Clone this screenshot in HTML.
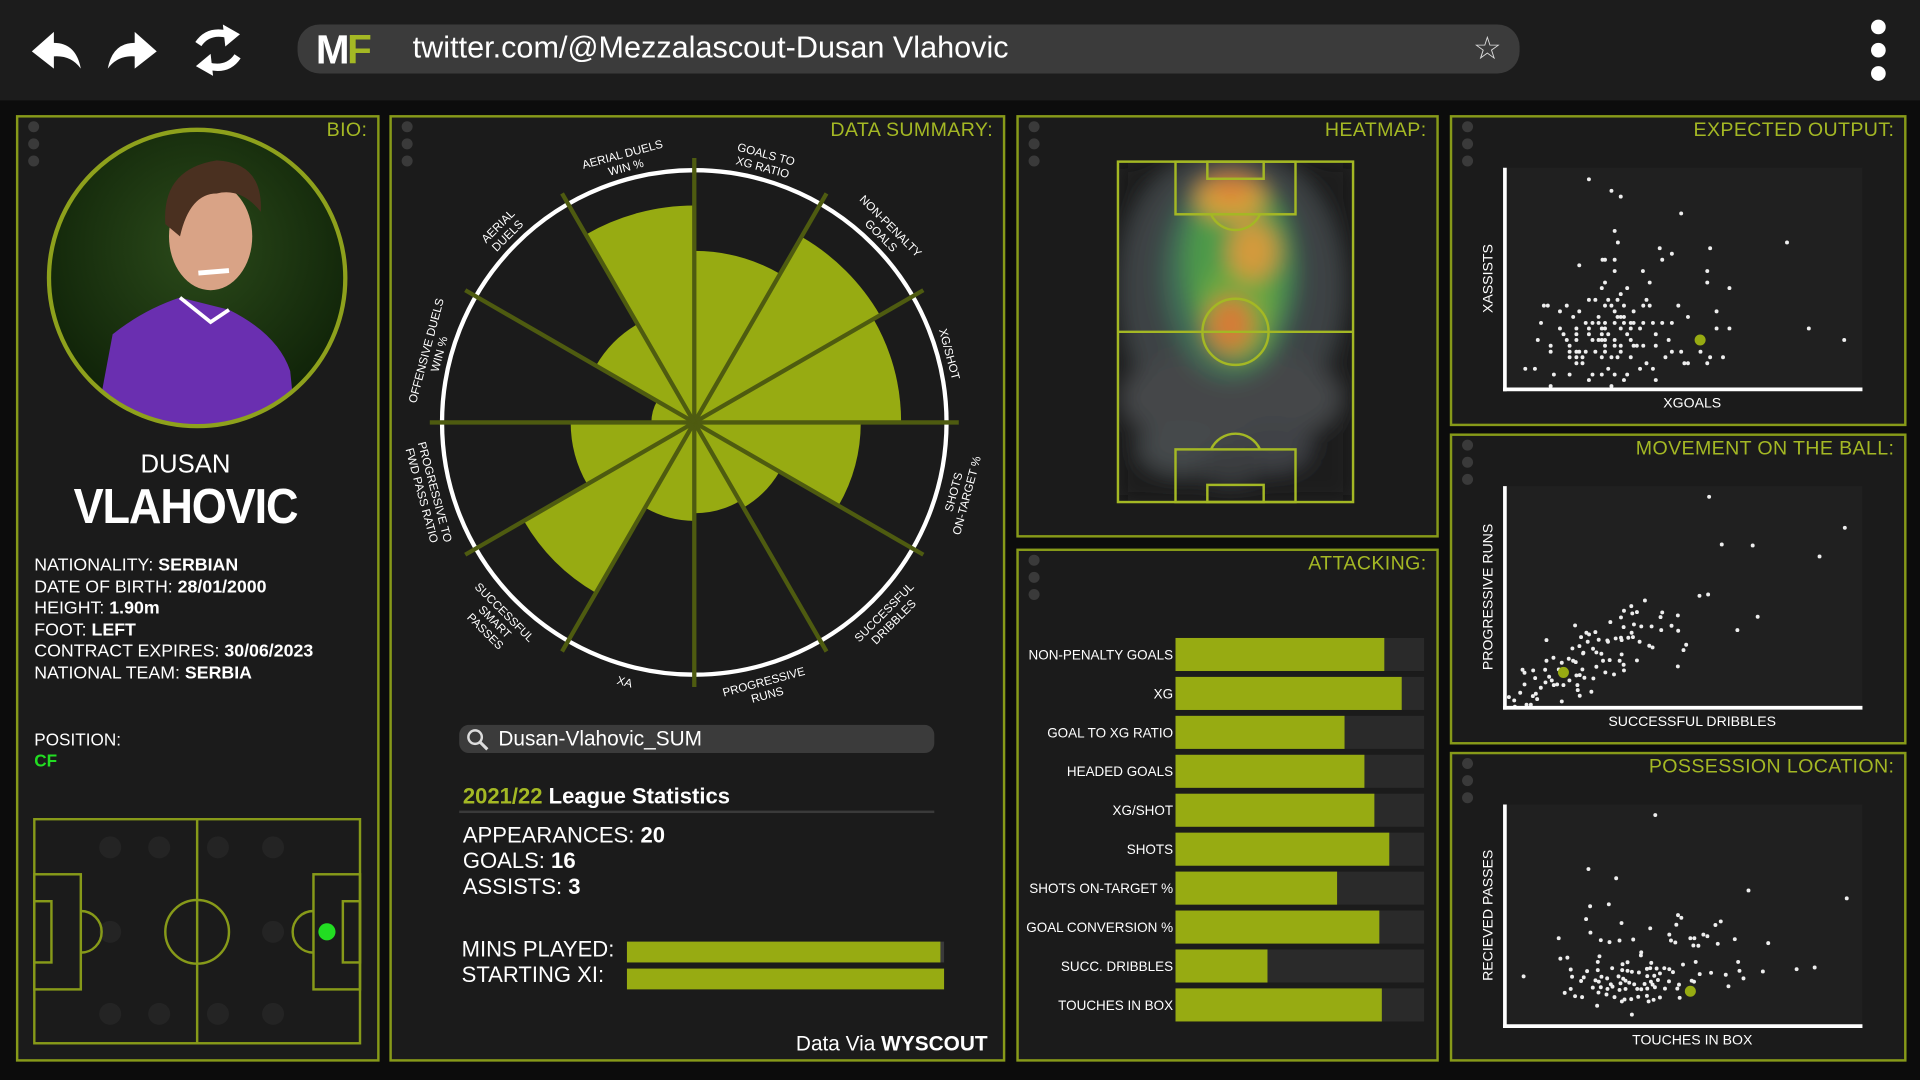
<!DOCTYPE html>
<html><head><meta charset="utf-8">
<style>
html,body{margin:0;padding:0;width:1920px;height:1080px;overflow:hidden;background:#0c0c0c;font-family:"Liberation Sans",sans-serif;}
#stage{position:absolute;left:0;top:0;width:1568px;height:882px;transform:scale(1.22449);transform-origin:0 0;background:#0c0c0c;}
.abs{position:absolute;}
.panel{position:absolute;background:#1b1b1b;border:2px solid #879a19;box-sizing:border-box;}
.ptitle{position:absolute;right:8px;top:2px;color:#a4b824;font-size:16px;letter-spacing:0.3px;}
.dots{position:absolute;left:8px;top:3px;width:9px;}
.dots i{display:block;width:9px;height:9px;border-radius:50%;background:#3a3a3a;margin-bottom:5px;}
.bio-line{font-size:14.5px;color:#fff;line-height:17.5px;}
.bio-line b{font-weight:bold;}
</style></head>
<body>
<div id="stage">

<div class="abs" style="left:0;top:0;width:1568px;height:82px;background:#1c1c1c;"></div>
<svg class="abs" style="left:0;top:0" width="240" height="82">
  <g><path d="M26 42 L44 26 L44 35 Q62 35 66 56 Q58 45 44 46 L44 56 Z" fill="#fff"/></g>
  <g><path d="M128 42 L110 26 L110 35 Q92 35 88 56 Q96 45 110 46 L110 56 Z" fill="#fff"/></g>
  <g fill="none" stroke="#fff" stroke-width="6">
    <path d="M162 36 Q170 24 186 28"/><path d="M194 46 Q186 58 170 54"/>
    <path d="M182 20 L196 28 L184 38 Z" fill="#fff" stroke="none"/><path d="M174 62 L160 54 L172 44 Z" fill="#fff" stroke="none"/>
  </g>
</svg>
<div class="abs" style="left:243px;top:20px;width:998px;height:40px;background:#3b3b3b;border-radius:18px;"></div>
<div class="abs" style="left:258px;top:22px;font-size:33px;font-weight:bold;color:#fff;letter-spacing:-2px;">M<span style="color:#a4b824">F</span></div>
<div class="abs" style="left:337px;top:25px;font-size:25px;color:#fff;">twitter.com/@Mezzalascout-Dusan Vlahovic</div>
<div class="abs" style="left:1203px;top:24px;font-size:26px;color:#ddd;">☆</div>
<div class="abs" style="left:1528px;top:16px;width:12px;">
  <div style="width:12px;height:12px;border-radius:50%;background:#fff;margin-bottom:7px"></div>
  <div style="width:12px;height:12px;border-radius:50%;background:#fff;margin-bottom:7px"></div>
  <div style="width:12px;height:12px;border-radius:50%;background:#fff"></div>
</div>

<div class="panel" style="left:13px;top:94px;width:297px;height:773px;">
  <div class="dots"><i></i><i></i><i></i></div>
  <div class="ptitle">BIO:</div>
</div>
<svg class="abs" style="left:37px;top:103px" width="250" height="250">
  <defs>
    <radialGradient id="bgph" cx="0.5" cy="0.4" r="0.6"><stop offset="0" stop-color="#2b4a1a"/><stop offset="1" stop-color="#0f2208"/></radialGradient>
    <clipPath id="cph"><circle cx="124" cy="124" r="121"/></clipPath>
  </defs>
  <circle cx="124" cy="124" r="121" fill="url(#bgph)"/>
  <g clip-path="url(#cph)">
    <path d="M40 250 L55 170 Q80 150 110 140 L150 150 Q190 170 200 200 L205 250 Z" fill="#6a2fb0"/>
    <path d="M110 140 L135 160 L150 150" fill="none" stroke="#fff" stroke-width="3"/>
    <ellipse cx="135" cy="90" rx="34" ry="44" fill="#d9a386"/>
    <path d="M98 80 Q95 35 140 28 Q178 30 176 70 Q160 50 140 55 Q118 55 110 90 Z" fill="#4a3020"/>
    <path d="M125 120 L150 118" stroke="#fff" stroke-width="4"/>
  </g>
  <circle cx="124" cy="124" r="121" fill="none" stroke="#8ea11c" stroke-width="3.5"/>
</svg>
<div class="abs" style="left:3px;width:297px;top:368px;text-align:center;color:#fff;font-size:21px;">DUSAN</div>
<div class="abs" style="left:3px;width:297px;top:392px;text-align:center;color:#fff;font-size:40px;font-weight:bold;letter-spacing:-1px;transform:scaleX(0.92);">VLAHOVIC</div>
<div class="abs" style="left:28px;top:454px;">
  <div class="bio-line">NATIONALITY: <b>SERBIAN</b></div>
  <div class="bio-line">DATE OF BIRTH: <b>28/01/2000</b></div>
  <div class="bio-line">HEIGHT: <b>1.90m</b></div>
  <div class="bio-line">FOOT: <b>LEFT</b></div>
  <div class="bio-line">CONTRACT EXPIRES: <b>30/06/2023</b></div>
  <div class="bio-line">NATIONAL TEAM: <b>SERBIA</b></div>
</div>
<div class="abs" style="left:28px;top:596px;color:#fff;font-size:14px;">POSITION:</div>
<div class="abs" style="left:28px;top:613px;color:#22dd22;font-size:14px;font-weight:bold;">CF</div>
<svg class="abs" style="left:27px;top:668px" width="269" height="186">
  <g fill="#242424">
    <circle cx="63" cy="24" r="9"/><circle cx="103" cy="24" r="9"/><circle cx="151" cy="24" r="9"/><circle cx="196" cy="24" r="9"/>
    <circle cx="63" cy="160" r="9"/><circle cx="103" cy="160" r="9"/><circle cx="151" cy="160" r="9"/><circle cx="196" cy="160" r="9"/>
    <circle cx="63" cy="93" r="9"/><circle cx="196" cy="93" r="9"/>
  </g>
  <g fill="none" stroke="#879a19" stroke-width="2">
    <rect x="1" y="1" width="266" height="183"/>
    <line x1="134" y1="1" x2="134" y2="184"/>
    <circle cx="134" cy="93" r="26"/>
    <rect x="1" y="46" width="38" height="94"/><rect x="1" y="68" width="14" height="50"/>
    <path d="M39 76 A17 17 0 0 1 39 110"/>
    <rect x="229" y="46" width="38" height="94"/><rect x="253" y="68" width="14" height="50"/>
    <path d="M229 76 A17 17 0 0 0 229 110"/>
  </g>
  <circle cx="240" cy="93" r="7" fill="#22dd22"/>
</svg>

<div class="panel" style="left:318px;top:94px;width:503px;height:773px;">
  <div class="dots"><i></i><i></i><i></i></div>
  <div class="ptitle">DATA SUMMARY:</div>
</div>
<svg id="radar" class="abs" style="left:318px;top:94px" width="503" height="500"></svg>
<div class="abs" style="left:375px;top:592px;width:388px;height:23px;background:#3b3b3b;border-radius:8px;"></div>
<svg class="abs" style="left:381px;top:595px" width="20" height="20"><circle cx="7" cy="7" r="5.5" fill="none" stroke="#ddd" stroke-width="2"/><line x1="11" y1="11" x2="17" y2="17" stroke="#ddd" stroke-width="2.5"/></svg>
<div class="abs" style="left:407px;top:594px;font-size:17px;color:#fff;">Dusan-Vlahovic_SUM</div>
<div class="abs" style="left:378px;top:640px;font-size:18px;font-weight:bold;color:#fff;"><span style="color:#a4b824">2021/22</span> League Statistics</div>
<div class="abs" style="left:375px;top:662px;width:388px;height:2px;background:#3a3a3a;"></div>
<div class="abs" style="left:378px;top:672px;font-size:18px;color:#fff;line-height:21px;">
  <div>APPEARANCES: <b>20</b></div><div>GOALS: <b>16</b></div><div>ASSISTS: <b>3</b></div>
</div>
<div class="abs" style="left:377px;top:765px;font-size:18px;color:#fff;">MINS PLAYED:</div>
<div class="abs" style="left:377px;top:786px;font-size:18px;color:#fff;">STARTING XI:</div>
<div class="abs" style="left:512px;top:769px;width:259px;height:17px;background:#3a3a3a;"><div style="width:256px;height:17px;background:#97ab12"></div></div>
<div class="abs" style="left:512px;top:791px;width:259px;height:17px;background:#97ab12;"></div>
<div class="abs" style="left:650px;top:843px;font-size:17px;color:#fff;">Data Via <b>WYSCOUT</b></div>

<div class="panel" style="left:830px;top:94px;width:345px;height:345px;">
  <div class="dots"><i></i><i></i><i></i></div>
  <div class="ptitle">HEATMAP:</div>
</div>
<svg class="abs" style="left:905px;top:125px" width="210" height="295">
  <defs>
    <filter id="blur1" x="-50%" y="-50%" width="200%" height="200%"><feGaussianBlur stdDeviation="9"/></filter>
    <clipPath id="hclip"><rect x="8" y="7" width="192" height="278"/></clipPath>
  </defs>
  <g clip-path="url(#hclip)" filter="url(#blur1)">
    <rect x="8" y="7" width="192" height="278" fill="#1e1e1e"/>
    <ellipse cx="100" cy="110" rx="92" ry="115" fill="#3e4245"/>
    <ellipse cx="100" cy="200" rx="90" ry="40" fill="#44474a"/>
    <ellipse cx="60" cy="240" rx="35" ry="22" fill="#45484b"/>
    <ellipse cx="135" cy="240" rx="30" ry="20" fill="#404346"/>
    <ellipse cx="100" cy="255" rx="25" ry="15" fill="#3a3d40"/>
    <ellipse cx="100" cy="100" rx="55" ry="85" fill="#3f6a57"/>
    <ellipse cx="105" cy="90" rx="42" ry="70" fill="#4d9a4a"/>
    <ellipse cx="105" cy="130" rx="30" ry="40" fill="#6ea83f"/>
    <ellipse cx="100" cy="37" rx="28" ry="18" fill="#d4a23a"/>
    <ellipse cx="118" cy="80" rx="20" ry="24" fill="#d49a3c"/>
    <ellipse cx="100" cy="140" rx="18" ry="22" fill="#d67a38"/>
    <ellipse cx="100" cy="30" rx="16" ry="8" fill="#e07a35"/>
  </g>
  <g fill="none" stroke="#a4b824" stroke-width="2">
    <rect x="8" y="7" width="192" height="278"/>
    <line x1="8" y1="146" x2="200" y2="146"/>
    <circle cx="104" cy="146" r="27"/>
    <rect x="55" y="7" width="98" height="43"/><rect x="81" y="7" width="46" height="14"/>
    <path d="M84 50 A22 22 0 0 0 124 50"/>
    <rect x="55" y="242" width="98" height="43"/><rect x="81" y="271" width="46" height="14"/>
    <path d="M84 242 A22 22 0 0 1 124 242"/>
  </g>
</svg>

<div class="panel" style="left:830px;top:448px;width:345px;height:419px;">
  <div class="dots"><i></i><i></i><i></i></div>
  <div class="ptitle">ATTACKING:</div>
</div>
<svg id="attack" class="abs" style="left:830px;top:448px" width="345" height="419"></svg>

<div class="panel" style="left:1184px;top:94px;width:373px;height:254px;">
  <div class="dots"><i></i><i></i><i></i></div>
  <div class="ptitle">EXPECTED OUTPUT:</div>
</div>
<div class="panel" style="left:1184px;top:354px;width:373px;height:254px;">
  <div class="dots"><i></i><i></i><i></i></div>
  <div class="ptitle">MOVEMENT ON THE BALL:</div>
</div>
<div class="panel" style="left:1184px;top:614px;width:373px;height:253px;">
  <div class="dots"><i></i><i></i><i></i></div>
  <div class="ptitle">POSSESSION LOCATION:</div>
</div>
<svg id="sc1" class="abs" style="left:1184px;top:94px" width="373" height="254"></svg>
<svg id="sc2" class="abs" style="left:1184px;top:354px" width="373" height="254"></svg>
<svg id="sc3" class="abs" style="left:1184px;top:614px" width="373" height="254"></svg>

</div>

<script>
const radarCategories = [["GOALS TO","XG RATIO"],["NON-PENALTY","GOALS"],["XG/SHOT"],["SHOTS","ON-TARGET %"],["SUCCESSFUL","DRIBBLES"],["PROGRESSIVE","RUNS"],["XA"],["SUCCESSFUL","SMART","PASSES"],["PROGRESSIVE TO","FWD PASS RATIO"],["OFFENSIVE DUELS","WIN %"],["AERIAL","DUELS"],["AERIAL DUELS","WIN %"]];
const radarValues = [0.68,0.85,0.82,0.66,0.39,0.36,0.39,0.78,0.49,0.17,0.45,0.86];

const attackCategories = ["NON-PENALTY GOALS","XG","GOAL TO XG RATIO","HEADED GOALS","XG/SHOT","SHOTS","SHOTS ON-TARGET %","GOAL CONVERSION %","SUCC. DRIBBLES","TOUCHES IN BOX"];
const attackValues = [84,91,68,76,80,86,65,82,37,83];

const expectedPoints = [[23.5,94.8],[29.8,89.6],[32.4,87],[49.3,79.4],[30.7,71.5],[31.6,66.3],[78.9,66.3],[43.3,63.7],[57.4,63.7],[46.7,61.2],[44,58.5],[27.3,58.5],[28,58.5],[30.7,58.5],[20.8,56],[30.7,53.4],[38.6,53.4],[56.6,53.4],[28,48.2],[40.5,48.2],[56.6,48.2],[27.1,45.7],[34.2,45.7],[62.8,45.7],[32.4,43],[23.5,40.4],[25.3,40.4],[28.9,40.4],[31.5,40.4],[39.6,40.4],[10.9,37.8],[12,37.8],[17.3,37.8],[28,37.8],[29.8,37.8],[33.3,37.8],[38.7,37.8],[40.5,37.8],[48.5,37.8],[15.4,35.2],[20.8,35.2],[30.7,35.2],[36,35.2],[59.2,35.2],[19.1,32.7],[26.2,32.7],[31.5,32.7],[32.4,32.7],[33.3,32.7],[51.2,32.7],[10.1,30],[22.6,30],[24.5,30],[26.2,30],[28,30],[30.7,30],[33.3,30],[35.2,30],[36,30],[38.7,30],[41.4,30],[44,30],[46.7,30],[15.4,27.5],[20,27.5],[23.5,27.5],[27.1,27.5],[28,27.5],[32.4,27.5],[35.2,27.5],[37.8,27.5],[59.2,27.5],[62.8,27.5],[85,27.5],[16.4,24.9],[20,24.9],[23.5,24.9],[27.1,24.9],[28.9,24.9],[34.2,24.9],[42.2,24.9],[9.2,22.3],[17.3,22.3],[20,22.3],[24.5,22.3],[26.2,22.3],[27.1,22.3],[28,22.3],[30.7,22.3],[35.2,22.3],[45.8,22.3],[94.9,22.3],[12.8,19.7],[18.1,19.7],[28,19.7],[30.7,19.7],[32.4,19.7],[36,19.7],[36.9,19.7],[38.7,19.7],[42.2,19.7],[12.8,17],[18.1,17],[20,17],[20.8,17],[22.6,17],[25.3,17],[28,17],[32.4,17],[46.7,17],[49.3,17],[54.7,17],[18.1,14.5],[20,14.5],[21.7,14.5],[27.1,14.5],[29.8,14.5],[31.5,14.5],[35.2,14.5],[44.9,14.5],[57.4,14.5],[61,14.5],[20,11.8],[21.7,11.8],[39.6,11.8],[50.2,11.8],[51.2,11.8],[56.6,11.8],[5.7,9.3],[8.4,9.3],[28.9,9.3],[37.8,9.3],[41.4,9.3],[13.7,6.7],[18.1,6.7],[24.5,6.7],[27.1,6.7],[30.7,6.7],[34.2,6.7],[23.5,4.2],[33.3,4.2],[42.2,4.2],[12.8,1.5],[29.8,1.5]];
const expectedHighlight = [54.6,22.3];

const movementPoints = [[61.4,63.3],[102.2,54],[65.2,49],[74.5,48.7],[94.6,45.4],[58.5,33.6],[61.1,34],[42.1,32.2],[76,27.3],[69.9,23.3],[38,30.5],[35.8,29.1],[38.3,28.3],[39.7,28.7],[47.3,28.6],[52,27.7],[46.8,27.2],[34.9,27.1],[31.7,25.7],[21.1,24.7],[38.8,25],[41,24.4],[44.1,24.4],[50.1,24.6],[35.7,24.2],[47,23.3],[52.1,23.1],[24.5,22.5],[27.2,22.7],[25.3,22],[38.1,22.5],[38.5,21.2],[37.1,21],[22.9,21.2],[12.5,20.3],[28.2,20.4],[24.9,19.8],[31,19.8],[30.8,20.2],[33.3,20.8],[35.1,20.3],[34.9,21],[40.5,19.8],[54.5,18.9],[43.4,18.6],[44.4,18.1],[53.7,17.3],[22.4,18.5],[23.6,16.5],[20.3,17.8],[26.5,17.7],[27.5,16.6],[29,16.2],[35.1,16],[39.7,14.2],[31.5,14.3],[29.5,14.1],[34.5,14.1],[35.7,12.9],[52,12.4],[27.5,12.3],[35.8,11.2],[32.8,10],[30.2,10.6],[23.3,11.5],[12.5,14.1],[14.6,15],[17.1,13.5],[19.2,14.7],[21.3,13.7],[20.5,14.1],[23.5,16.3],[5.3,11.4],[8.5,11.2],[5.9,10.5],[12.1,11.4],[16.2,11.5],[9.1,8.9],[12.2,7.6],[13.3,9.3],[14.1,8.2],[14.7,6.8],[15.7,7],[19.4,8.2],[21.5,9.7],[22.5,9.8],[23.9,9],[26.6,8.8],[26,4.8],[21.8,6.8],[21.9,5.3],[22.5,3.6],[17.6,6.8],[10.8,6],[9.3,4.2],[8.4,3.5],[9.7,2.6],[4.6,4.5],[5.9,7],[1.2,3.2],[2.8,2.2],[6.5,0.9],[7.8,0.9],[17.1,1.9],[3,0.3]];
const movementHighlight = [17.6,10.6];

const possessionPoints = [[45,64.1],[25,47.7],[33.3,44.9],[72.9,41.2],[102.3,38.8],[25.5,36.4],[31.1,37],[24.3,32.5],[34.9,31.3],[51.8,33.7],[52.8,32.9],[51.3,30.8],[43.5,29.7],[64.6,31.8],[63,30.7],[25.6,28.4],[49.2,27.8],[59.4,27.8],[60.6,27.3],[55.5,26.7],[56.7,26.7],[16.1,26.7],[28.7,26.1],[31.3,25.5],[34.3,26],[38.4,26.3],[49.7,26],[51,25.4],[63.7,25],[68.8,26.4],[78.8,25.2],[56.4,24.5],[57.9,24.4],[40.8,22.4],[40.7,21.5],[28.3,21.2],[16.6,20.5],[18.7,20.8],[27.8,19.5],[36.7,19.4],[35.2,18.8],[43.8,19.2],[57.1,19.5],[53.3,18.7],[69.8,19.5],[19.7,17.2],[24.6,16.7],[27.8,17],[32.1,17.6],[35.1,17],[36.7,16.8],[38,16.5],[40.1,16.3],[42.5,17.4],[43.5,17.6],[45.4,17.5],[47.7,17.6],[49.2,17.3],[50.3,16.4],[61.7,16.2],[66.1,15.6],[70.2,16.8],[77.2,16.6],[87.3,17.3],[92.7,17.8],[5.6,15.1],[20.1,15],[23.6,14.8],[28.9,15],[30.6,14.5],[34,15.1],[35.4,14.4],[36.1,13.8],[42.6,15.2],[44.7,15.3],[46.4,16],[58.3,15.8],[71.4,14.5],[22.8,13.7],[27.1,13.9],[28.1,13.5],[31.7,12.7],[34.6,13],[37.2,13.2],[38.7,12.7],[41.8,12.8],[43.7,13.5],[45.8,14],[49.1,13.6],[44.2,12.6],[55.9,13.8],[56.6,13.5],[52.1,12.6],[66.9,12.1],[26.3,11.7],[28.7,11.8],[30.7,11.3],[32.2,12],[34.3,11],[36.1,11.3],[39.6,11.3],[40.8,11.2],[42.6,11.4],[44.9,11.8],[47.9,11.4],[51.6,11.4],[19.7,11.3],[17.9,10.1],[21,9.1],[23.1,8.8],[28,10.2],[30.4,9.6],[32.8,8.8],[35,7.5],[35.8,8.1],[37.8,8.2],[39.9,8.9],[42.5,9.2],[43,7.5],[44.5,8],[46.4,8.7],[52.3,8.6],[27.6,6.2],[38,3.5]];
const possessionHighlight = [55.5,10.6];

const NS = "http://www.w3.org/2000/svg";
function mk(parent, tag, attrs) {
  const e = document.createElementNS(NS, tag);
  for (const k in attrs) e.setAttribute(k, attrs[k]);
  parent.appendChild(e);
  return e;
}

(function(){
  const svg = document.getElementById('radar');
  const cx = 249, cy = 251, R = 206;
  const n = radarCategories.length;
  const step = 2*Math.PI/n;
  const rScale = v => v*R;
  const pt = (a, r) => [cx + r*Math.sin(a), cy - r*Math.cos(a)];
  radarValues.forEach((v,i)=>{
    const a0 = i*step, a1 = (i+1)*step, r = rScale(v);
    const p0 = pt(a0,r), p1 = pt(a1,r);
    const w = mk(svg,'path',{d:`M${cx} ${cy} L${p0[0]} ${p0[1]} A${r} ${r} 0 0 1 ${p1[0]} ${p1[1]} Z`, fill:'#97ab12'});
    
    
  });
  mk(svg,'circle',{cx:cx,cy:cy,r:R,fill:'none',stroke:'#fff','stroke-width':3.5});
  for (let i=0;i<n;i++){
    const p = pt(i*step, R+10);
    const s = mk(svg,'line',{x1:cx,y1:cy,x2:p[0],y2:p[1],stroke:'#4e5b10','stroke-width':3.5});
    
    
  }
  radarCategories.forEach((lines,i)=>{
    const a = (i+0.5)*step;
    const deg = a*180/Math.PI;
    const bottom = deg>90 && deg<270;
    const rot = bottom ? deg-180 : deg;
    const m = lines.length;
    lines.forEach((txt,j)=>{
      const r = bottom ? 220 + j*11 : 215 + (m-1-j)*11;
      const p = pt(a, r);
      const t = mk(svg,'text',{x:p[0],y:p[1],fill:'#fff','font-size':9.5,'text-anchor':'middle','dominant-baseline':'middle',transform:`rotate(${rot} ${p[0]} ${p[1]})`,'font-family':'Liberation Sans, sans-serif'});
      t.textContent = txt;
      
      
    });
  });
})();

(function(){
  const svg = document.getElementById('attack');
  const x0 = 130, W = 203, top0 = 73, rowH = 31.8, bh = 27;
  const xScale = v => v/100*W;
  attackCategories.forEach((c,i)=>{
    const y = top0 + i*rowH;
    const bg = mk(svg,'rect',{x:x0,y:y,width:W,height:bh,fill:'#2a2a2a'});
    
    
    const b = mk(svg,'rect',{x:x0,y:y,width:xScale(attackValues[i]),height:bh,fill:'#97ab12'});
    
    
    const t = mk(svg,'text',{x:x0-2,y:y+bh/2+4,fill:'#fff','font-size':11,'text-anchor':'end','font-family':'Liberation Sans, sans-serif'});
    t.textContent = c;
    
    
  });
})();

function scatter(id, pts, hi, xMax, yMax, xTitle, yTitle){
  const svg = document.getElementById(id);
  const L = 45, T = 43, W = 292, H = 181;
  const xs = v => L + v/xMax*W;
  const ys = v => T + H - v/yMax*H;
  mk(svg,'rect',{x:L,y:T,width:W,height:H,fill:'#202020'});
  pts.forEach(p=>{
    const c = mk(svg,'circle',{cx:xs(p[0]),cy:ys(p[1]),r:1.6,fill:'#eee'});
    
    
  });
  const h = mk(svg,'circle',{cx:xs(hi[0]),cy:ys(hi[1]),r:4.5,fill:'#97ab12'});
  
  
  mk(svg,'line',{x1:L,y1:T,x2:L,y2:T+H+1.5,stroke:'#fff','stroke-width':3});
  mk(svg,'line',{x1:L-1.5,y1:T+H,x2:L+W,y2:T+H,stroke:'#fff','stroke-width':3});
  const xt = mk(svg,'text',{x:L+W/2+7,y:T+H+15,fill:'#fff','font-size':11.5,'text-anchor':'middle','font-family':'Liberation Sans, sans-serif'});
  xt.textContent = xTitle;
  
  
  const yt = mk(svg,'text',{x:0,y:0,fill:'#fff','font-size':11.5,'text-anchor':'middle','font-family':'Liberation Sans, sans-serif',transform:`translate(${L-10},${T+H/2}) rotate(-90)`});
  yt.textContent = yTitle;
  
  
}
scatter('sc1', expectedPoints, expectedHighlight, 100, 100, 'XGOALS', 'XASSISTS');
scatter('sc2', movementPoints, movementHighlight, 107.5, 66.5, 'SUCCESSFUL DRIBBLES', 'PROGRESSIVE RUNS');
scatter('sc3', possessionPoints, possessionHighlight, 107, 67.3, 'TOUCHES IN BOX', 'RECIEVED PASSES');
</script>
</body></html>
